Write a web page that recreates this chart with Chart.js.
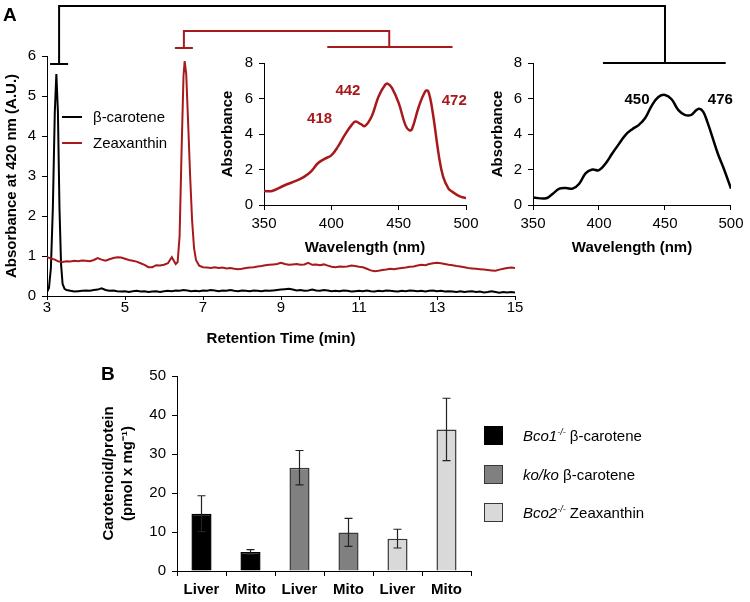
<!DOCTYPE html>
<html>
<head>
<meta charset="utf-8">
<script src="https://cdn.jsdelivr.net/npm/chart.js@4.4.0/dist/chart.umd.min.js"></script>
<style>
  body { margin: 0; width: 750px; height: 602px; position: relative; background: #fff; overflow: hidden;
         font-family: Arial, "Liberation Sans", sans-serif; color: #000; }
  canvas { position: absolute; left: 0; top: 0; }
  .lab { position: absolute; line-height: 1; white-space: nowrap; }
  .panel { font-weight: bold; font-size: 19px; }
  .key { font-size: 15px; }
  .key sup { font-size: 9px; font-style: italic; vertical-align: 6px; }
  .swatch { position: absolute; width: 17px; height: 17px; border: 1.5px solid #222; }
  .seg { position: absolute; width: 20px; height: 2px; }
</style>
</head>
<body>
<canvas id="main" width="750" height="602"></canvas>
<canvas id="zea" width="750" height="602"></canvas>
<canvas id="beta" width="750" height="602"></canvas>
<canvas id="bars" width="750" height="602"></canvas>
<div class="lab panel" style="left:3px;top:5px">A</div>
<div class="lab panel" style="left:101px;top:364px">B</div>
<div id="chromLegend"></div>
<div id="barLegend"></div>
<script>
// chromatogram traces, [retention time (min), absorbance at 420 nm]
const betaTrace = [
  [3.0,0.1],[3.05,0.2],[3.1,0.7],[3.15,2.2],[3.2,4.6],[3.24,5.55],[3.28,4.6],[3.32,2.2],[3.36,0.8],[3.4,0.3],[3.45,0.18],[3.5,0.15],
  [3.6,0.13],[3.7,0.11],[3.8,0.12],[3.9,0.13],[4.0,0.14],[4.1,0.13],[4.2,0.15],[4.3,0.16],[4.4,0.19],[4.5,0.15],
  [4.6,0.13],[4.7,0.14],[4.8,0.12],[4.9,0.11],[5.0,0.12],[5.1,0.1],[5.2,0.12],[5.3,0.13],[5.4,0.11],[5.5,0.12],
  [5.6,0.1],[5.7,0.11],[5.8,0.12],[5.9,0.1],[6.0,0.12],[6.1,0.13],[6.2,0.12],[6.3,0.14],[6.4,0.13],[6.5,0.15],
  [6.6,0.14],[6.7,0.12],[6.8,0.13],[6.9,0.12],[7.0,0.14],[7.1,0.13],[7.2,0.15],[7.3,0.14],[7.4,0.12],[7.5,0.14],
  [7.6,0.13],[7.7,0.15],[7.8,0.13],[7.9,0.12],[8.0,0.14],[8.1,0.13],[8.2,0.12],[8.3,0.14],[8.4,0.13],[8.5,0.12],
  [8.6,0.14],[8.7,0.13],[8.8,0.14],[8.9,0.15],[9.0,0.16],[9.1,0.17],[9.2,0.18],[9.3,0.16],[9.4,0.14],[9.5,0.15],
  [9.6,0.13],[9.7,0.14],[9.8,0.16],[9.9,0.14],[10.0,0.13],[10.1,0.15],[10.2,0.14],[10.3,0.12],[10.4,0.13],[10.5,0.12],
  [10.6,0.14],[10.7,0.13],[10.8,0.11],[10.9,0.12],[11.0,0.13],[11.1,0.12],[11.2,0.14],[11.3,0.12],[11.4,0.11],[11.5,0.13],
  [11.6,0.12],[11.7,0.14],[11.8,0.13],[11.9,0.12],[12.0,0.11],[12.1,0.13],[12.2,0.12],[12.3,0.14],[12.4,0.13],[12.5,0.12],
  [12.6,0.13],[12.7,0.11],[12.8,0.13],[12.9,0.14],[13.0,0.12],[13.1,0.13],[13.2,0.11],[13.3,0.12],[13.4,0.11],[13.5,0.1],
  [13.6,0.12],[13.7,0.1],[13.8,0.11],[13.9,0.12],[14.0,0.1],[14.1,0.11],[14.2,0.09],[14.3,0.1],[14.4,0.12],[14.5,0.1],
  [14.6,0.08],[14.7,0.1],[14.8,0.09],[14.9,0.1],[15.0,0.09]
];
const zeaTrace = [
  [3.0,0.97],[3.1,0.94],[3.2,0.91],[3.3,0.86],[3.4,0.85],[3.5,0.87],[3.6,0.86],[3.7,0.88],[3.8,0.87],[3.9,0.89],
  [4.0,0.88],[4.1,0.87],[4.2,0.9],[4.3,0.95],[4.4,0.91],[4.5,0.88],[4.6,0.92],[4.7,0.95],[4.8,0.97],[4.9,0.96],
  [5.0,0.93],[5.1,0.9],[5.2,0.88],[5.3,0.86],[5.4,0.82],[5.5,0.78],[5.6,0.72],[5.7,0.72],[5.8,0.77],[5.9,0.76],
  [6.0,0.78],[6.1,0.82],[6.2,0.97],[6.3,0.8],[6.35,0.85],[6.4,1.5],[6.45,3.6],[6.5,5.5],[6.53,5.87],[6.57,5.55],
  [6.62,4.3],[6.67,3.0],[6.72,1.9],[6.77,1.2],[6.82,0.9],[6.9,0.76],[7.0,0.72],[7.1,0.71],[7.2,0.7],[7.3,0.72],
  [7.4,0.7],[7.5,0.71],[7.6,0.69],[7.7,0.7],[7.8,0.68],[7.9,0.67],[8.0,0.68],[8.1,0.7],[8.2,0.71],[8.3,0.72],
  [8.4,0.74],[8.5,0.75],[8.6,0.77],[8.7,0.78],[8.8,0.79],[8.9,0.8],[9.0,0.83],[9.1,0.8],[9.2,0.78],[9.3,0.79],
  [9.4,0.8],[9.5,0.78],[9.6,0.79],[9.7,0.83],[9.8,0.78],[9.9,0.79],[10.0,0.77],[10.1,0.79],[10.2,0.76],[10.3,0.73],
  [10.4,0.72],[10.5,0.74],[10.6,0.73],[10.7,0.74],[10.8,0.76],[10.9,0.75],[11.0,0.73],[11.1,0.72],[11.2,0.68],[11.3,0.64],
  [11.4,0.62],[11.5,0.63],[11.6,0.65],[11.7,0.66],[11.8,0.68],[11.9,0.67],[12.0,0.69],[12.1,0.7],[12.2,0.71],[12.3,0.73],
  [12.4,0.74],[12.5,0.76],[12.6,0.78],[12.7,0.77],[12.8,0.8],[12.9,0.82],[13.0,0.83],[13.1,0.82],[13.2,0.8],[13.3,0.78],
  [13.4,0.77],[13.5,0.75],[13.6,0.74],[13.7,0.72],[13.8,0.7],[13.9,0.69],[14.0,0.68],[14.1,0.67],[14.2,0.66],[14.3,0.65],
  [14.4,0.64],[14.5,0.63],[14.6,0.66],[14.7,0.68],[14.8,0.7],[14.9,0.71],[15.0,0.7]
];

// absorbance spectra of the two peaks
const zeaWavelength = [350,356,365,375,380,385,390,395,400,405,410,415,418,422,425,430,435,440,442,445,450,455,458,460,465,470,472,475,480,483,487,490,495,500];
const zeaAbsorbance = [0.79,0.79,1.1,1.4,1.6,1.9,2.35,2.6,2.8,3.3,3.95,4.5,4.7,4.55,4.45,5.0,6.1,6.77,6.83,6.6,5.75,4.5,4.2,4.3,5.55,6.43,6.4,5.35,2.7,1.6,0.92,0.74,0.5,0.38];
const zeaPeaks = [418, 442, 472];

const betaWavelength = [350,360,365,370,375,380,385,390,395,400,405,410,415,420,425,430,435,440,445,450,455,460,465,470,473,476,479,482,485,490,495,500];
const betaAbsorbance = [0.42,0.38,0.64,0.92,0.96,0.92,1.2,1.8,2.0,1.96,2.34,2.9,3.43,3.94,4.26,4.5,4.9,5.6,6.08,6.2,5.96,5.36,5.08,5.08,5.3,5.42,5.25,4.7,4.04,2.9,1.96,0.92];
const betaPeaks = [450, 476];

// panel B
const tissues = ['Liver', 'Mito', 'Liver', 'Mito', 'Liver', 'Mito'];
const bco1Beta = [14.7, 4.9, null, null, null, null];
const bco1BetaErr = [4.6, 0.6, 0, 0, 0, 0];
const kokoBeta = [null, null, 26.5, 9.9, null, null];
const kokoBetaErr = [0, 0, 4.4, 3.6, 0, 0];
const bco2Zea = [null, null, null, null, 8.3, 36.3];
const bco2ZeaErr = [0, 0, 0, 0, 2.4, 8.0];

const RED = '#a8191c';
const FONT = 'Arial, "Liberation Sans", sans-serif';
const W = 750, H = 602;

Chart.defaults.font.family = FONT;
Chart.defaults.color = '#000';
Chart.defaults.animation = false;

function pad(area, yW, xH) {
  return { left: area.left - yW, top: area.top, right: W - area.right, bottom: H - area.bottom - xH };
}
function toXY(pairs) { return pairs.map(p => ({ x: p[0], y: p[1] })); }
function zip(xs, ys) { return xs.map((x, i) => ({ x: x, y: ys[i] })); }

function valueAxis(opts) {
  return {
    type: opts.type || 'linear', min: opts.min, max: opts.max,
    afterFit: s => { s[opts.size[0]] = opts.size[1]; },
    ticks: { stepSize: opts.step, padding: opts.pad, font: { size: 15, lineHeight: 1, weight: opts.bold ? 'bold' : 'normal' } },
    grid: { drawOnChartArea: false, color: '#000', tickLength: opts.tick, offset: opts.offset },
    border: { color: '#000', width: 1 },
    title: opts.title ? { display: true, text: opts.title, padding: 0,
                          font: { size: 15, weight: 'bold', lineHeight: opts.lh || 1.2 } } : { display: false }
  };
}

// peak wavelength labels, offset in px from the curve point
const labelOffsets = { zea: [[-36, -3], [-40, 7], [26, 9]], beta: [[-28, 5], [21, -9]] };
function peakLabelPlugin(key, peaks, xs, ys, color) {
  return {
    id: 'peaks_' + key,
    afterDatasetsDraw(chart) {
      const { ctx, scales: { x, y } } = chart;
      ctx.save();
      ctx.fillStyle = color;
      ctx.font = 'bold 15px ' + FONT;
      ctx.textAlign = 'center';
      ctx.textBaseline = 'middle';
      peaks.forEach((p, i) => {
        const v = ys[xs.indexOf(p)];
        const o = labelOffsets[key][i];
        ctx.fillText(String(p), x.getPixelForValue(p) + o[0], y.getPixelForValue(v) + o[1]);
      });
      ctx.restore();
    }
  };
}

// main chromatogram
const mainArea = { left: 47, top: 56, right: 515, bottom: 296 };
const mainChart = new Chart(document.getElementById('main'), {
  type: 'line',
  data: {
    datasets: [
      { label: 'Zeaxanthin', data: toXY(zeaTrace), borderColor: RED, borderWidth: 2, pointRadius: 0, tension: 0 },
      { label: 'β-carotene', data: toXY(betaTrace), borderColor: '#000', borderWidth: 2, pointRadius: 0, tension: 0 }
    ]
  },
  options: {
    responsive: false,
    layout: { padding: pad(mainArea, 44, 52) },
    plugins: { legend: { display: false }, tooltip: { enabled: false } },
    scales: {
      x: valueAxis({ min: 3, max: 15, step: 2, size: ['height', 52], pad: 0.5, tick: 4, title: 'Retention Time (min)' }),
      y: valueAxis({ min: 0, max: 6, step: 1, size: ['width', 44], pad: 6, tick: 5, title: 'Absorbance at 420 nm (A.U.)' })
    }
  }
});

// zeaxanthin spectrum inset
const zeaArea = { left: 264, top: 63, right: 466, bottom: 205 };
const zeaChart = new Chart(document.getElementById('zea'), {
  type: 'line',
  data: { datasets: [{ data: zip(zeaWavelength, zeaAbsorbance), borderColor: RED, borderWidth: 2.5, pointRadius: 0, tension: 0.4 }] },
  options: {
    responsive: false,
    layout: { padding: pad(zeaArea, 45, 52) },
    plugins: { legend: { display: false }, tooltip: { enabled: false } },
    scales: {
      x: valueAxis({ min: 350, max: 500, step: 50, size: ['height', 52], pad: 6.5, tick: 5, title: 'Wavelength (nm)' }),
      y: valueAxis({ min: 0, max: 8, step: 2, size: ['width', 45], pad: 6, tick: 5, title: 'Absorbance' })
    }
  },
  plugins: [peakLabelPlugin('zea', zeaPeaks, zeaWavelength, zeaAbsorbance, RED)]
});

// brackets linking each HPLC peak to its spectrum
const bracket = { blackTop: 6, redTop: 31, redDrop: 16, stub: 9 };
const bracketPlugin = {
  id: 'brackets',
  afterDraw(chart) {
    const ctx = chart.ctx;
    const mx = mainChart.scales.x, my = mainChart.scales.y;
    const zx = zeaChart.scales.x, zy = zeaChart.scales.y;
    const bx = chart.scales.x, by = chart.scales.y;
    ctx.save();
    ctx.lineWidth = 2;
    ctx.lineCap = 'butt';
    // beta-carotene
    let px = mx.getPixelForValue(3.31), py = my.getPixelForValue(5.8);
    let rx = bx.getPixelForValue(450), ry = by.getPixelForValue(8);
    ctx.strokeStyle = '#000';
    ctx.beginPath();
    ctx.moveTo(px - bracket.stub, py); ctx.lineTo(px + bracket.stub, py);
    ctx.moveTo(px, py); ctx.lineTo(px, bracket.blackTop); ctx.lineTo(rx, bracket.blackTop); ctx.lineTo(rx, ry);
    ctx.moveTo(bx.getPixelForValue(403), ry); ctx.lineTo(bx.getPixelForValue(496), ry);
    ctx.stroke();
    // zeaxanthin
    px = mx.getPixelForValue(6.51); py = my.getPixelForValue(6.2);
    rx = zx.getPixelForValue(443); ry = zy.getPixelForValue(8) - bracket.redDrop;
    ctx.strokeStyle = RED;
    ctx.beginPath();
    ctx.moveTo(px - bracket.stub, py); ctx.lineTo(px + bracket.stub, py);
    ctx.moveTo(px, py); ctx.lineTo(px, bracket.redTop); ctx.lineTo(rx, bracket.redTop); ctx.lineTo(rx, ry);
    ctx.moveTo(zx.getPixelForValue(397), ry); ctx.lineTo(zx.getPixelForValue(490), ry);
    ctx.stroke();
    ctx.restore();
  }
};

// beta-carotene spectrum inset
const betaArea = { left: 533, top: 63, right: 736, bottom: 205 };
new Chart(document.getElementById('beta'), {
  type: 'line',
  data: { datasets: [{ data: zip(betaWavelength, betaAbsorbance), borderColor: '#000', borderWidth: 2.5, pointRadius: 0, tension: 0.4 }] },
  options: {
    responsive: false,
    layout: { padding: pad(betaArea, 44, 52) },
    plugins: { legend: { display: false }, tooltip: { enabled: false } },
    scales: {
      x: valueAxis({ min: 350, max: 500, step: 50, size: ['height', 52], pad: 6.5, tick: 5, title: 'Wavelength (nm)' }),
      y: valueAxis({ min: 0, max: 8, step: 2, size: ['width', 44], pad: 6, tick: 5, title: 'Absorbance' })
    }
  },
  plugins: [peakLabelPlugin('beta', betaPeaks, betaWavelength, betaAbsorbance, '#000'), bracketPlugin]
});

// panel B bars with error bars
const errorBarPlugin = {
  id: 'errorBars',
  afterDatasetsDraw(chart) {
    const { ctx, scales: { y } } = chart;
    ctx.save();
    ctx.strokeStyle = '#222';
    ctx.lineWidth = 1.2;
    chart.data.datasets.forEach((ds, di) => {
      chart.getDatasetMeta(di).data.forEach((bar, i) => {
        const v = ds.data[i];
        if (v == null) return;
        const top = y.getPixelForValue(v + ds.errors[i]), bot = y.getPixelForValue(v - ds.errors[i]);
        ctx.beginPath();
        ctx.moveTo(bar.x, top); ctx.lineTo(bar.x, bot);
        ctx.moveTo(bar.x - 4, top); ctx.lineTo(bar.x + 4, top);
        ctx.moveTo(bar.x - 4, bot); ctx.lineTo(bar.x + 4, bot);
        ctx.stroke();
      });
    });
    ctx.restore();
  }
};

const barArea = { left: 177, top: 376, right: 471, bottom: 571 };
const barSets = [
  { label: 'Bco1', sup: '-/-', rest: ' β-carotene', data: bco1Beta, errors: bco1BetaErr, backgroundColor: '#000000', borderColor: '#000000' },
  { label: 'ko/ko', sup: '', rest: ' β-carotene', data: kokoBeta, errors: kokoBetaErr, backgroundColor: '#808080', borderColor: '#383838' },
  { label: 'Bco2', sup: '-/-', rest: ' Zeaxanthin', data: bco2Zea, errors: bco2ZeaErr, backgroundColor: '#d9d9d9', borderColor: '#383838' }
];
new Chart(document.getElementById('bars'), {
  type: 'bar',
  data: {
    labels: tissues,
    datasets: barSets.map(s => ({ label: s.label, data: s.data, errors: s.errors, backgroundColor: s.backgroundColor,
      borderColor: s.borderColor, borderWidth: 1.5, barPercentage: 0.41, categoryPercentage: 1, skipNull: true }))
  },
  options: {
    responsive: false,
    layout: { padding: pad(barArea, 77.5, 30) },
    plugins: { legend: { display: false }, tooltip: { enabled: false } },
    scales: {
      x: valueAxis({ type: 'category', size: ['height', 30], pad: 6.5, tick: 5, bold: true, offset: true }),
      y: valueAxis({ min: 0, max: 50, step: 10, size: ['width', 77.5], pad: 6, tick: 5, lh: 1.27,
                     title: ['Carotenoid/protein', '(pmol x mg\u207B\u00B9)'] })
    }
  },
  plugins: [errorBarPlugin]
});

// legends
const chromLegend = document.getElementById('chromLegend');
[mainChart.data.datasets[1], mainChart.data.datasets[0]].forEach((ds, i) => {
  const y = 117 + i * 26;
  chromLegend.insertAdjacentHTML('beforeend',
    `<div class="seg" style="left:62px;top:${y - 1}px;background:${ds.borderColor}"></div>` +
    `<div class="lab key" style="left:93px;top:${y - 8}px">${ds.label}</div>`);
});
const barLegend = document.getElementById('barLegend');
barSets.forEach((s, i) => {
  const y = 436 + i * 38.5;
  barLegend.insertAdjacentHTML('beforeend',
    `<div class="swatch" style="left:484px;top:${y - 10}px;background:${s.backgroundColor};border-color:${i ? '#383838' : '#000'}"></div>` +
    `<div class="lab key" style="left:523px;top:${y - 8}px"><i>${s.label}</i>${s.sup ? '<sup>' + s.sup + '</sup>' : ''}${s.rest}</div>`);
});
</script>
</body>
</html>
